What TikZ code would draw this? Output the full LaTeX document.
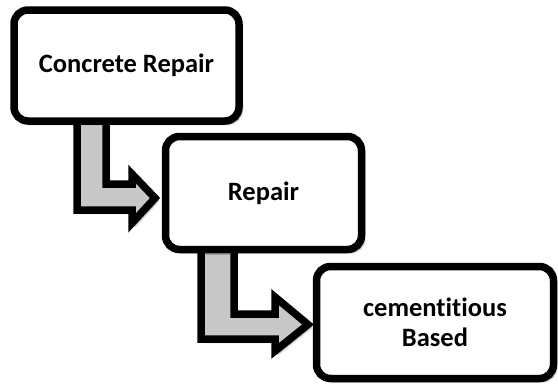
\documentclass[tikz,border=0pt]{standalone}
\usepackage{fontspec}
\setmainfont{Carlito}[Ligatures=NoCommon]
\usepackage{tikz}
\usetikzlibrary{calc, backgrounds, shadows.blur}
\definecolor{arrowgray}{RGB}{200,200,200}
\tikzset{
  stepbox/.style={draw=black, fill=white, line width=7.5pt, rounded corners=14pt,
    outer sep=0pt, inner sep=0pt, align=center,
    font=\fontsize{26.5}{30}\selectfont\bfseries,
    blur shadow={shadow xshift=3pt, shadow yshift=-3pt, shadow blur steps=6, shadow opacity=45}},
  bentarrow/.style={draw=black, fill=arrowgray, line width=7.5pt, line join=miter,
    blur shadow={shadow xshift=3pt, shadow yshift=-3pt, shadow blur steps=6, shadow opacity=45}}
}

\begin{document}
\begin{tikzpicture}[x=1pt, y=-1pt]
            \useasboundingbox (0,0) rectangle (558,386);

            %Nodes
            \node[stepbox, minimum width=225pt, minimum height=111pt] at (126.5,65.5) (cr) {Concrete Repair};
            \node[stepbox, minimum width=196pt, minimum height=113pt] at (263.5,193) (rep) {Repair};
            \node[stepbox, minimum width=237pt, minimum height=112pt] at (435,322.5) (cem) {cementitious\\Based};

            %Arrows
            \begin{scope}[on background layer]
            \draw[bentarrow] ($(cr.south west)+(63,-2)$) -- ($(cr.south west)+(63,89)$)
                -- ($(rep.west)+(-33.5,17)$) -- ($(rep.west)+(-33.5,30)$)
                -- ($(rep.west)+(-10.5,5)$) -- ($(rep.west)+(-33.5,-19)$)
                -- ($(rep.west)+(-33.5,-9)$) -- ($(cr.south west)+(92,63)$)
                -- ($(cr.south west)+(92,-2)$) -- cycle;
            \draw[bentarrow] ($(rep.south west)+(35.5,-2)$) -- ($(rep.south west)+(35.5,89.5)$)
                -- ($(cem.west)+(-41.5,16.5)$) -- ($(cem.west)+(-41.5,28.5)$)
                -- ($(cem.west)+(-8.5,2)$) -- ($(cem.west)+(-41.5,-25.5)$)
                -- ($(cem.west)+(-41.5,-8.5)$) -- ($(rep.south west)+(68.5,64.5)$)
                -- ($(rep.south west)+(68.5,-2)$) -- cycle;
            \end{scope}
\end{tikzpicture}
\end{document}
